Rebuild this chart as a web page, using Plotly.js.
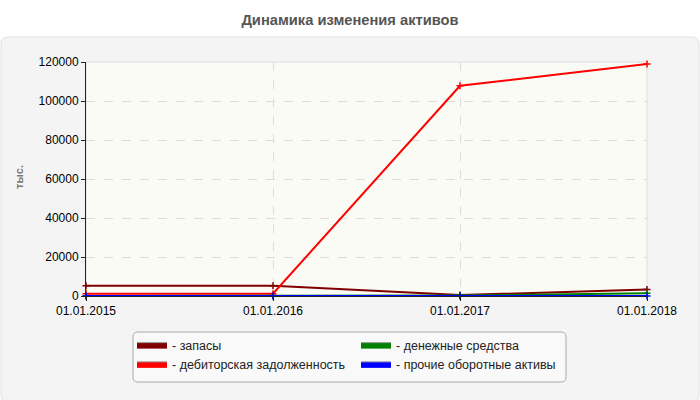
<!DOCTYPE html>
<html>
<head>
<meta charset="utf-8">
<script src="https://cdn.plot.ly/plotly-3.0.1.min.js"></script>
<style>
  html, body { margin: 0; padding: 0; background: #fff; }
  #chart { width: 700px; height: 400px; }
</style>
</head>
<body>
<div id="chart"></div>
<script>
// values, thousands
const dates = ['01.01.2015', '01.01.2016', '01.01.2017', '01.01.2018'];
const zapasy = [5200, 5200, 500, 3300];
const debitor = [1200, 1200, 107800, 119000];
const dengi = [0, 0, 200, 1400];
const prochie = [0, 0, 0, 0];

const names = ['- запасы', '- дебиторская задолженность', '- денежные средства', '- прочие оборотные активы'];
const colors = ['#800000', '#ff0000', '#008000', '#0000ff'];
const series = [zapasy, debitor, dengi, prochie];
// two legend columns
const legendOf = ['legend', 'legend', 'legend2', 'legend2'];

// plot area in pixels, used to place the panel shapes
const L = 86, R = 647, T = 62, B = 296;
const px = (x) => (x - L) / (R - L);
const py = (y) => (B - y) / (B - T);

function roundRect(x0, y0, x1, y1, r) {
    return 'M' + px(x0 + r) + ',' + py(y0) +
        ' L' + px(x1 - r) + ',' + py(y0) +
        ' Q' + px(x1) + ',' + py(y0) + ' ' + px(x1) + ',' + py(y0 + r) +
        ' L' + px(x1) + ',' + py(y1 - r) +
        ' Q' + px(x1) + ',' + py(y1) + ' ' + px(x1 - r) + ',' + py(y1) +
        ' L' + px(x0 + r) + ',' + py(y1) +
        ' Q' + px(x0) + ',' + py(y1) + ' ' + px(x0) + ',' + py(y1 - r) +
        ' L' + px(x0) + ',' + py(y0 + r) +
        ' Q' + px(x0) + ',' + py(y0) + ' ' + px(x0 + r) + ',' + py(y0) + ' Z';
}

let data = [];
series.forEach(function (values, i) {
    data.push({
        x: dates,
        y: values,
        type: 'scatter',
        mode: 'lines+markers',
        line: {color: colors[i], width: 2},
        marker: {symbol: 'cross-thin', size: 5, line: {color: colors[i], width: 1.5}},
        cliponaxis: false,
        showlegend: false,
        hoverinfo: 'skip',
    });
});
// legend entries with filled swatches
series.forEach(function (values, i) {
    data.push({
        x: [null],
        y: [null],
        name: names[i],
        type: 'scatter',
        mode: 'lines',
        fill: 'toself',
        fillcolor: colors[i],
        line: {color: '#999', width: 1},
        legend: legendOf[i],
    });
});

const legendBase = {
    orientation: 'v',
    xanchor: 'left',
    yanchor: 'top',
    bgcolor: 'rgba(0,0,0,0)',
    borderwidth: 0,
    itemwidth: 30,
    tracegroupgap: 0,
    font: {size: 12.5, color: '#222'},
    itemclick: false,
    itemdoubleclick: false,
};

let layout = {
    width: 700,
    height: 400,
    margin: {l: L, r: 700 - R, t: T, b: 400 - B},
    paper_bgcolor: '#ffffff',
    plot_bgcolor: '#fbfbf6',
    font: {family: 'Liberation Sans, Arial, sans-serif', size: 12, color: '#000'},
    title: {
        text: '<b>Динамика изменения активов</b>',
        font: {family: 'Liberation Sans, Arial, sans-serif', size: 14.7, color: '#555'},
        x: 0.5,
        xref: 'container',
        xanchor: 'center',
        y: 1 - 20 / 400,
        yanchor: 'middle',
    },
    xaxis: {
        type: 'category',
        range: [0, 3],
        showgrid: true,
        gridcolor: '#dddddd',
        griddash: 'dash',
        zeroline: false,
        showline: true,
        linecolor: '#222',
        linewidth: 1,
        ticks: 'outside',
        ticklen: 4,
        tickcolor: '#222',
        tickfont: {size: 12, color: '#000'},
        fixedrange: true,
    },
    yaxis: {
        range: [0, 120000],
        dtick: 20000,
        tickformat: 'd',
        showgrid: true,
        gridcolor: '#dddddd',
        griddash: 'dash',
        zeroline: false,
        showline: true,
        linecolor: '#222',
        linewidth: 1,
        ticks: 'outside',
        ticklen: 4,
        tickcolor: '#222',
        tickfont: {size: 12, color: '#000'},
        fixedrange: true,
    },
    legend: Object.assign({}, legendBase, {x: px(132), y: py(330)}),
    legend2: Object.assign({}, legendBase, {x: px(356), y: py(330)}),
    annotations: [{
        text: '<b>тыс.</b>',
        xref: 'paper', yref: 'paper',
        x: px(19), y: py(177),
        xanchor: 'center', yanchor: 'middle',
        textangle: -90,
        showarrow: false,
        font: {size: 11, color: '#777'},
    }],
    shapes: [
        {
            type: 'path',
            xref: 'paper', yref: 'paper',
            path: roundRect(1, 37, 699, 402, 7),
            fillcolor: '#f4f4f4',
            line: {color: '#e2e2e2', width: 1},
            layer: 'below',
        },
        {
            type: 'path',
            xref: 'paper', yref: 'paper',
            path: roundRect(133, 332, 566, 382, 5),
            fillcolor: '#f9f9f9',
            line: {color: '#aaaaaa', width: 1},
            layer: 'below',
        },
        {
            type: 'rect',
            xref: 'x domain', yref: 'y domain',
            x0: 0, x1: 1, y0: 0, y1: 1,
            fillcolor: '#fbfbf6',
            line: {color: '#dddddd', width: 1},
            layer: 'below',
        },
    ],
};

Plotly.newPlot('chart', data, layout, {displayModeBar: false, staticPlot: true});
</script>
</body>
</html>
